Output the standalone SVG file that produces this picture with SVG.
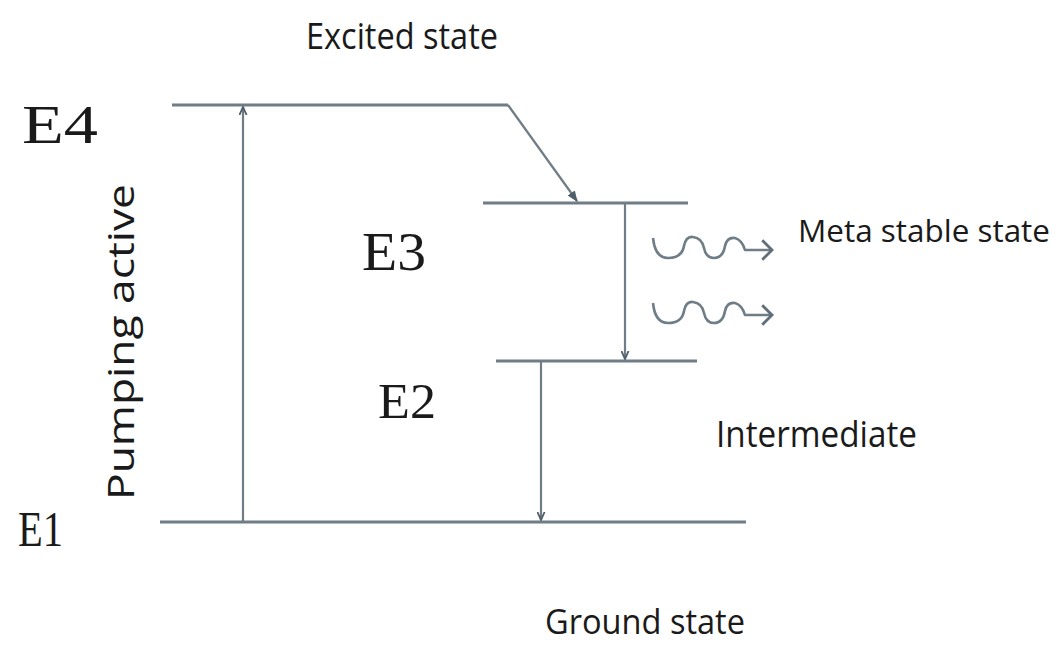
<svg xmlns="http://www.w3.org/2000/svg" width="1062" height="646" viewBox="0 0 1062 646">
<style>
.lvl{stroke:#6e7d86;stroke-width:3;fill:none}
.arr{stroke:#6e7d86;stroke-width:2.2;fill:none}
.wave{stroke:#6e7d86;stroke-width:2.6;fill:none;stroke-linejoin:round}
.t{font-family:"Open Sans","Liberation Sans",sans-serif;fill:#1a1a1a}
.e{font-family:"Liberation Serif","DejaVu Serif",serif;fill:#1a1a1a}
</style>
<defs>
<marker id="ah" viewBox="0 0 10 10" refX="9" refY="5" markerWidth="9" markerHeight="9" orient="auto" markerUnits="userSpaceOnUse">
<path d="M0,1 L9,5 L0,9" fill="none" stroke="#4f5e68" stroke-width="2"/>
</marker>
<marker id="ahf" viewBox="0 0 10 10" refX="9" refY="5" markerWidth="11" markerHeight="11" orient="auto" markerUnits="userSpaceOnUse">
<path d="M0,1 L10,5 L0,9 z" fill="#4f5e68"/>
</marker>
<marker id="wa" viewBox="0 0 12 24" refX="11" refY="12" markerWidth="14" markerHeight="26" orient="auto" markerUnits="userSpaceOnUse">
<path d="M2,3 L11,12 L2,21" fill="none" stroke="#5f6e78" stroke-width="2.6"/>
</marker>
</defs>
<rect width="1062" height="646" fill="#ffffff"/>
<g id="E4-level">
<line class="lvl" x1="172" y1="105" x2="508" y2="105"/>
<text class="e" x="22" y="143" font-size="54" textLength="76" lengthAdjust="spacingAndGlyphs">E4</text>
<text class="t" x="306" y="49" font-size="37" textLength="192" lengthAdjust="spacingAndGlyphs">Excited state</text>
</g>
<g id="E3-level">
<line class="lvl" x1="483" y1="203" x2="688" y2="203"/>
<text class="e" x="362" y="270" font-size="54" textLength="64" lengthAdjust="spacingAndGlyphs">E3</text>
<text class="t" x="798" y="242" font-size="31" textLength="252" lengthAdjust="spacingAndGlyphs">Meta stable state</text>
</g>
<g id="E2-level">
<line class="lvl" x1="496" y1="361" x2="697" y2="361"/>
<text class="e" x="378" y="418" font-size="50" textLength="58" lengthAdjust="spacingAndGlyphs">E2</text>
<text class="t" x="716" y="447" font-size="37" textLength="201" lengthAdjust="spacingAndGlyphs">Intermediate</text>
</g>
<g id="E1-level">
<line class="lvl" x1="160" y1="522" x2="746" y2="522"/>
<text class="e" x="18" y="546" font-size="50" textLength="45" lengthAdjust="spacingAndGlyphs">E1</text>
<text class="t" x="545" y="634" font-size="35" textLength="200" lengthAdjust="spacingAndGlyphs">Ground state</text>
</g>
<g id="pumping-label">
<text class="t" transform="translate(134,500) rotate(-90)" font-size="36" textLength="316" lengthAdjust="spacingAndGlyphs">Pumping active</text>
</g>
<g id="connectors">
<line class="arr" x1="243" y1="522" x2="243" y2="107" marker-end="url(#ah)"/>
<line class="arr" x1="508" y1="105" x2="577" y2="201" marker-end="url(#ahf)"/>
<line class="arr" x1="625" y1="203" x2="625" y2="359" marker-end="url(#ah)"/>
<line class="arr" x1="541" y1="361" x2="541" y2="520" marker-end="url(#ah)"/>
<path class="wave" d="M653,238 Q655,258 668,258 Q682,258 684,246 Q686,236 693,237 Q702,238 704,248 Q706,258 714,258 Q723,258 725,246 Q727,237 735,238 Q742,240 745,250 L772,250" marker-end="url(#wa)"/>
<path class="wave" d="M653,303 Q655,323 668,323 Q682,323 684,311 Q686,301 693,302 Q702,303 704,313 Q706,323 714,323 Q723,323 725,311 Q727,302 735,303 Q742,305 745,315 L772,315" marker-end="url(#wa)"/>
</g>
</svg>
